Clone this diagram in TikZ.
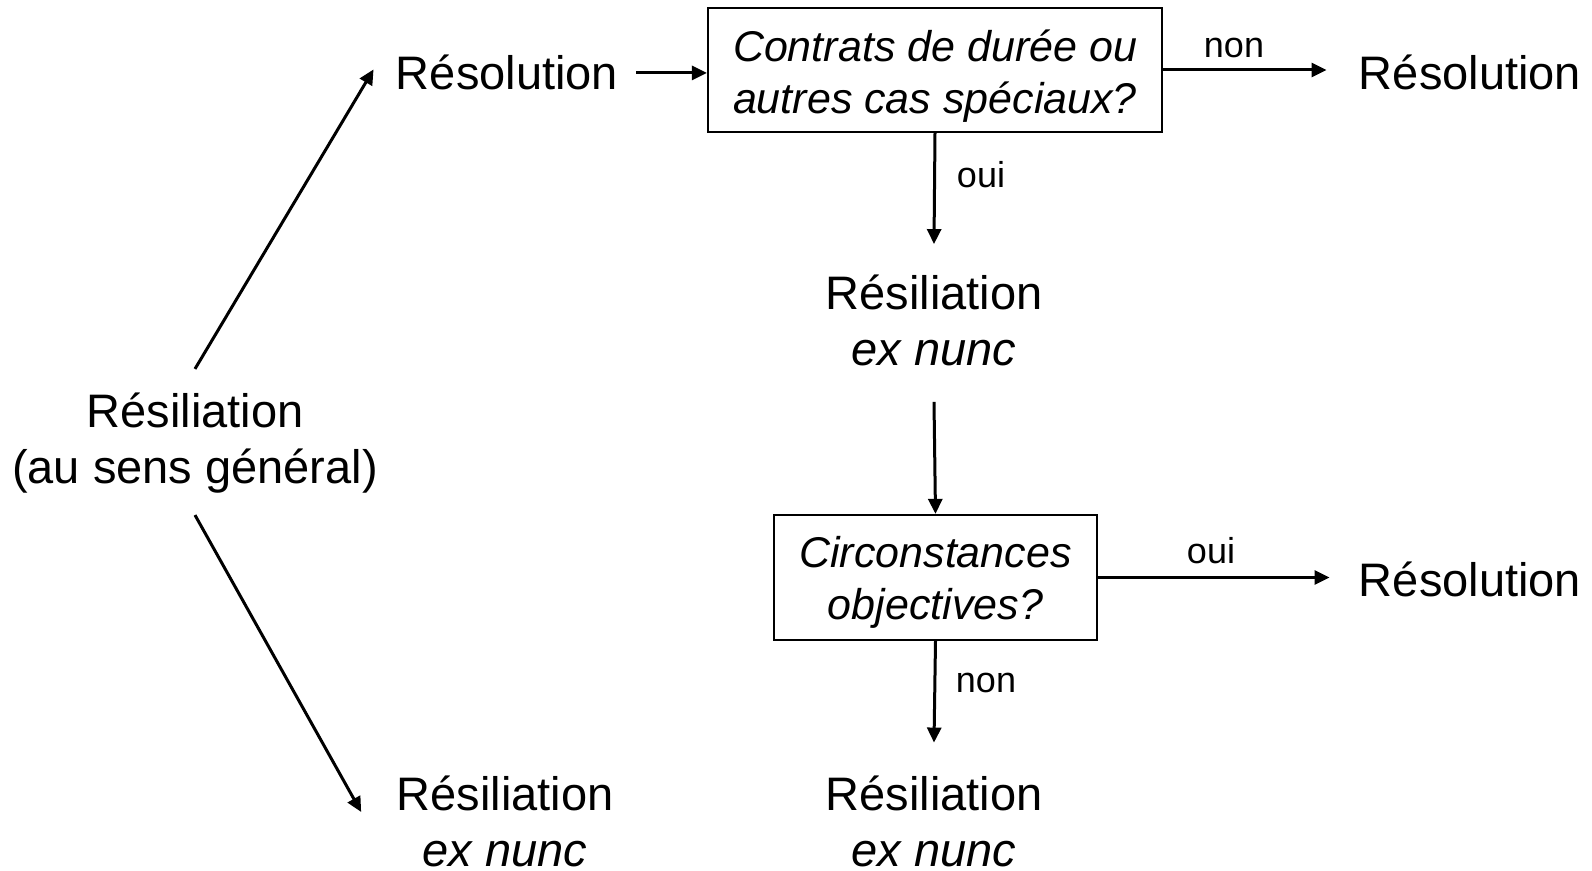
\documentclass[tikz,border=0pt]{standalone}
\usepackage{fontspec}
\setmainfont{Liberation Sans}
\usetikzlibrary{arrows.meta,calc}
\tikzset{
  txt/.style={inner sep=0pt, align=center, font=\fontsize{23.5}{28}\selectfont},
  qbox/.style={draw, line width=1.1pt, inner sep=0pt, align=center, font=\fontsize{21.5}{26}\selectfont\itshape},
  lbl/.style={inner sep=0pt, anchor=base, font=\fontsize{18}{21}\selectfont},
  arr/.style={-{Triangle[length=7.5pt,width=7pt]}, line width=1.5pt},
}
\begin{document}
\begin{tikzpicture}[x=0.5pt,y=-0.5pt]
\useasboundingbox (0,0) rectangle (1592,871);
% nodes
\node[txt] (gen) at (195,443.5) {Résiliation\\(au sens général)};
\node[txt, anchor=base] (res1) at (507,90) {Résolution};
\node[qbox, minimum width=227pt, minimum height=62pt] (box1) at (935,70) {\rule{0pt}{22pt}Contrats de durée ou\\autres cas spéciaux?};
\node[txt, anchor=base] (res2) at (1470,90) {Résolution};
\node[txt] (rx1) at (934,320) {Résiliation\\\textit{ex nunc}};
\node[qbox, minimum width=161.5pt, minimum height=62.5pt] (box2) at (935.5,577.5) {\rule{0pt}{20.5pt}Circonstances\\objectives?};
\node[txt, anchor=base] (res3) at (1470,597) {Résolution};
\node[txt] (rx2) at (934,821.5) {Résiliation\\\textit{ex nunc}};
\node[txt] (rx0) at (505,821.5) {Résiliation\\\textit{ex nunc}};
% labels
\node[lbl] (lnon1) at (1234,58) {non};
\node[lbl] (loui1) at (981,188) {oui};
\node[lbl] (loui2) at (1211,564) {oui};
\node[lbl] (lnon2) at (986,693) {non};
% connectors
\draw[arr] ([yshift=12pt]gen.north) -- ([xshift=-11pt,yshift=1.75pt]res1.west);
\draw[arr] ([yshift=-10.5pt]gen.south) -- ([xshift=-17.5pt,yshift=4.75pt]rx0.west);
\draw[arr] ([xshift=9pt]res1.east) -- (res1.east -| box1.west);
\draw[arr] (box1.east) -- ([xshift=-16pt]box1.east -| res2.west);
\draw[arr] (box1.south) -- ([yshift=15pt]rx1.north);
\draw[arr] ([yshift=-18pt]rx1.south) -- (box2.north);
\draw[arr] (box2.east) -- ([xshift=-14.5pt]box2.east -| res3.west);
\draw[arr] (box2.south) -- ([yshift=16.5pt]rx2.north);
\end{tikzpicture}
\end{document}
